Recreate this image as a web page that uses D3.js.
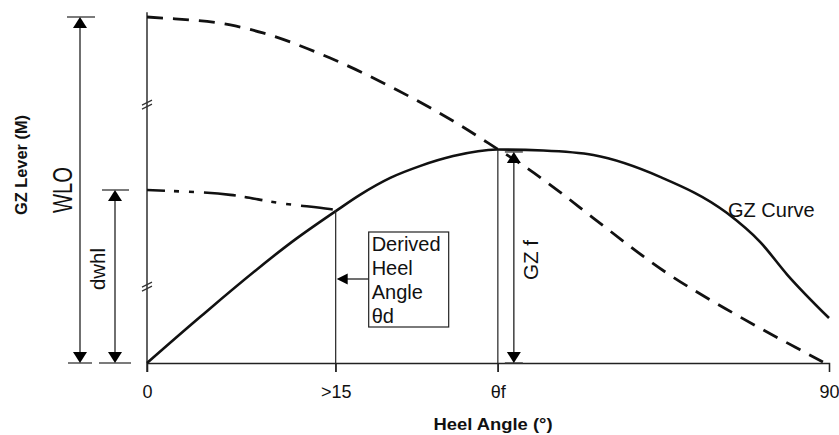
<!DOCTYPE html>
<html>
<head>
<meta charset="utf-8">
<script src="https://cdn.jsdelivr.net/npm/d3@7"></script>
<style>
  body { margin: 0; background: #fff; }
  text { font-family: "Liberation Sans", Arial, sans-serif; fill: #111; }
</style>
</head>
<body>
<div class="chart"></div>
<script>
// heel angle (deg) vs lever (fraction of WLO)
var gzCurve = [
  [0, 0], [7, 0.133], [19.8, 0.361], [25.1, 0.442], [28.1, 0.486], [32.1, 0.535],
  [36, 0.569], [40.4, 0.598], [46.2, 0.617], [52.3, 0.614], [58.9, 0.601],
  [67.7, 0.538], [76.5, 0.434], [80.9, 0.35], [84.5, 0.255], [90, 0.13]
];
var wloCurve = [
  [0, 1], [2.1, 0.997], [11, 0.977], [15.3, 0.954], [24.1, 0.882], [33, 0.789],
  [41.7, 0.682], [45, 0.636], [50.1, 0.564], [54.5, 0.494], [58.9, 0.419],
  [68.6, 0.26], [77.3, 0.145], [86.2, 0.038], [89.2, 0.003]
];
var dwhlCurve = [
  [0, 0.5], [3.4, 0.497], [11, 0.486], [17.6, 0.462], [24.1, 0.445], [25.1, 0.442]
];
var tickAngles = [0, 24.9, 46.3, 90];
var tickLabels = ['0', '>15', 'θf', '90'];
var thetaD = 24.9;   // derived heel angle
var thetaF = 46.3;   // angle of GZ f
var gzF = 0.61;
var dwhl = 0.5;
var breakLevels = [0.751, 0.225];

var width = 839, height = 435;

var svg = d3.select('.chart')
  .append('svg')
  .attr('width', width)
  .attr('height', height);

var xScale = d3.scaleLinear().domain([0, 90]).range([147, 829]);
var yScale = d3.scaleLinear().domain([0, 1]).range([363, 17]);

// x axis
var xAxis = g => g
  .attr('transform', `translate(0, ${yScale(0)})`)
  .call(d3.axisBottom(xScale)
    .tickValues(tickAngles)
    .tickFormat((d, i) => tickLabels[i])
    .tickSizeOuter(0)
    .tickSize(9)
    .tickPadding(13));

var gx = svg.append('g').call(xAxis);
gx.select('.domain').attr('stroke', '#222').attr('stroke-width', 1.4);
gx.selectAll('.tick line').attr('stroke', '#222').attr('stroke-width', 1.2);
gx.selectAll('.tick text')
  .attr('font-size', 18)
  .attr('font-family', '"Liberation Sans Narrow", "Liberation Sans", Arial, sans-serif')
  .attr('fill', '#222');

// y axis (no ticks)
svg.append('line')
  .attr('x1', xScale(0)).attr('x2', xScale(0))
  .attr('y1', yScale(1.014)).attr('y2', yScale(0) + 9)
  .attr('stroke', '#222').attr('stroke-width', 1.4);

// axis break marks
breakLevels.forEach(v => {
  [0, 4].forEach(o => {
    svg.append('line')
      .attr('x1', xScale(0) - 5).attr('y1', yScale(v) + 2 + o)
      .attr('x2', xScale(0) + 5).attr('y2', yScale(v) - 3 + o)
      .attr('stroke', '#333').attr('stroke-width', 1.2);
  });
});

var line = d3.line()
  .x(d => xScale(d[0]))
  .y(d => yScale(d[1]))
  .curve(d3.curveMonotoneX);

svg.append('path')
  .attr('d', line(wloCurve))
  .attr('fill', 'none').attr('stroke', '#111')
  .attr('stroke-width', 2.8)
  .attr('stroke-dasharray', '16,10');

svg.append('path')
  .attr('d', line(dwhlCurve))
  .attr('fill', 'none').attr('stroke', '#111')
  .attr('stroke-width', 2.6)
  .attr('stroke-dasharray', '18,9,5,10,5,10,32,9');

svg.append('path')
  .attr('d', line(gzCurve))
  .attr('fill', 'none').attr('stroke', '#111')
  .attr('stroke-width', 2.6);

// vertical guides at theta d and theta f
[[thetaD, 0.442], [thetaF, 0.617]].forEach(p => {
  svg.append('line')
    .attr('x1', xScale(p[0])).attr('x2', xScale(p[0]))
    .attr('y1', yScale(p[1])).attr('y2', yScale(0) + 9)
    .attr('stroke', '#222').attr('stroke-width', 1.2);
});

function head(x, y, dir, w, h) {
  // dir: 'up', 'down', 'left'
  var p;
  if (dir === 'up') p = [[x, y], [x - w / 2, y + h], [x + w / 2, y + h]];
  else if (dir === 'down') p = [[x, y], [x - w / 2, y - h], [x + w / 2, y - h]];
  else p = [[x, y], [x + h, y - w / 2], [x + h, y + w / 2]];
  svg.append('path').attr('d', 'M' + p.join('L') + 'Z').attr('fill', '#000');
}

function dimension(x, yTop, yBot, capTop, capBot) {
  svg.append('line')
    .attr('x1', x).attr('x2', x).attr('y1', yTop + 4).attr('y2', yBot - 4)
    .attr('stroke', '#222').attr('stroke-width', 1.3);
  svg.append('line')
    .attr('x1', capTop[0]).attr('x2', capTop[1]).attr('y1', yTop).attr('y2', yTop)
    .attr('stroke', '#333').attr('stroke-width', 1.3);
  svg.append('line')
    .attr('x1', capBot[0]).attr('x2', capBot[1]).attr('y1', yBot).attr('y2', yBot)
    .attr('stroke', '#333').attr('stroke-width', 1.3);
  head(x, yTop, 'up', 14, 11);
  head(x, yBot, 'down', 14, 11);
}

// WLO dimension
dimension(80, yScale(1), yScale(0), [67, 95], [68, 92]);
// dwhl dimension
dimension(115, yScale(dwhl), yScale(0), [102, 129], [99, 131]);
// GZ f dimension
dimension(xScale(thetaF) + 16, yScale(gzF), yScale(0), [xScale(thetaF) + 7, xScale(thetaF) + 25], [xScale(thetaF) + 7, xScale(thetaF) + 25]);

function vtext(str, x, y, size, len, bold) {
  svg.append('text')
    .attr('transform', `translate(${x}, ${y}) rotate(-90)`)
    .attr('text-anchor', 'middle')
    .attr('font-size', size)
    .attr('font-weight', bold ? 'bold' : 'normal')
    .attr('textLength', len)
    .attr('lengthAdjust', 'spacingAndGlyphs')
    .text(str);
}

vtext('GZ Lever (M)', 27, 165, 17, 100, true);
vtext('WLO', 72, 190, 27, 46, false);
vtext('dwhl', 105, 269, 20, 42, false);
vtext('GZ f', xScale(thetaF) + 40, 260, 20, 40, false);

// derived heel angle box
var boxX = xScale(thetaD) + 33, boxY = 232;
svg.append('rect')
  .attr('x', boxX).attr('y', boxY)
  .attr('width', 80).attr('height', 95)
  .attr('fill', '#fff').attr('stroke', '#222').attr('stroke-width', 1.2);
['Derived', 'Heel', 'Angle', 'θd'].forEach((t, i) => {
  svg.append('text')
    .attr('x', boxX + 3).attr('y', boxY + 19 + i * 24)
    .attr('font-size', 20)
    .text(t);
});
svg.append('line')
  .attr('x1', boxX).attr('x2', xScale(thetaD) + 8)
  .attr('y1', 279).attr('y2', 279)
  .attr('stroke', '#222').attr('stroke-width', 1.3);
head(xScale(thetaD) + 1, 279, 'left', 11, 11);

svg.append('text')
  .attr('x', 728).attr('y', 217)
  .attr('font-size', 20)
  .text('GZ Curve');

svg.append('text')
  .attr('x', 493).attr('y', 430)
  .attr('text-anchor', 'middle')
  .attr('font-size', 16)
  .attr('font-weight', 'bold')
  .attr('textLength', 119)
  .attr('lengthAdjust', 'spacingAndGlyphs')
  .text('Heel Angle (°)');
</script>
</body>
</html>
